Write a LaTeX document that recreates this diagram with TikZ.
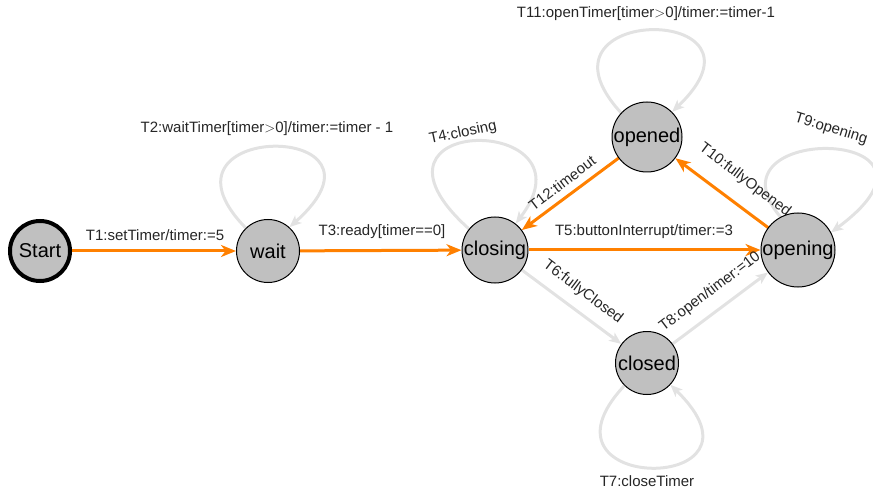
\documentclass[tikz,border=0pt]{standalone}
\usepackage{fontspec}
\setmainfont{Liberation Sans}
\usetikzlibrary{arrows.meta,backgrounds}
\definecolor{edgeorange}{RGB}{255,128,0}
\definecolor{edgegray}{RGB}{226,226,226}
\definecolor{nodegray}{RGB}{192,192,192}
\begin{document}
\begin{tikzpicture}[x=1pt,y=-1pt,
 state/.style={circle,draw=black,line width=1pt,fill=nodegray,inner sep=0pt,font=\fontsize{20}{24}\selectfont},
 hot/.style={draw=edgeorange,line width=3pt,-{Stealth[length=15pt,width=12pt,inset=4.5pt]}},
 cold/.style={draw=edgegray,line width=3pt,-{Stealth[length=12pt,width=10pt,inset=3pt]}},
 lbl/.style={font=\fontsize{15}{18}\selectfont,inner sep=0pt,text=black!85}]
\useasboundingbox (0,0) rectangle (873,489);

% states
\node[state,line width=4pt,minimum size=60pt] (start) at (40,251) {Start};
\node[state,minimum size=63pt] (wait) at (268,251) {wait};
\node[state,minimum size=66pt] (closing) at (495,250) {closing};
\node[state,minimum size=74pt] (opening) at (798,250) {opening};
\node[state,minimum size=63pt] (closed) at (647,363) {closed};
\node[state,minimum size=70pt] (opened) at (647,137) {opened};

\begin{scope}[on background layer]
% transitions
\draw[hot] (start) -- (wait);
\draw[hot] (wait) -- (closing);
\draw[hot] (closing) -- (opening);
\draw[hot] (opened) -- (closing);
\draw[hot] (opening) -- (opened);
\draw[cold] (closing) -- (closed);
\draw[cold] (closed) -- (opening);

% self loops
\draw[cold] (wait.134) .. controls (140,120) and (410,120) .. (wait.48);
\draw[cold] (closing.141) .. controls (340,113) and (600,113) .. (closing.52);
\draw[cold] (opened.137) .. controls (520,3) and (786,3) .. (opened.45);
\draw[cold] (closed.225) .. controls (522,495) and (784,495) .. (closed.317);
\draw[cold] (opening.118) .. controls (700,122) and (975,126) .. (opening.28);

% labels
\node[lbl] (l1) at (155,235) {T1:setTimer/timer:=5};
\node[lbl] (l2) at (267,129) {T2:waitTimer[timer$>$0]/timer:=timer - 1};
\node[lbl] (l3) at (382,232) {T3:ready[timer==0]};
\node[lbl,rotate=12] (l4) at (463,133) {T4:closing};
\node[lbl] (l5) at (644,232) {T5:buttonInterrupt/timer:=3};
\node[lbl,rotate=-37] (l6) at (583,292) {T6:fullyClosed};
\node[lbl] (l7) at (647,481) {T7:closeTimer};
\node[lbl,rotate=37] (l8) at (710,292) {T8:open/timer:=10};
\node[lbl,rotate=-17] (l9) at (831,129) {T9:opening};
\node[lbl,rotate=-37] (l10) at (745,180) {T10:fullyOpened};
\node[lbl] (l11) at (646,14) {T11:openTimer[timer$>$0]/timer:=timer-1};
\node[lbl,rotate=37] (l12) at (562,183) {T12:timeout};
\end{scope}
\end{tikzpicture}
\end{document}
